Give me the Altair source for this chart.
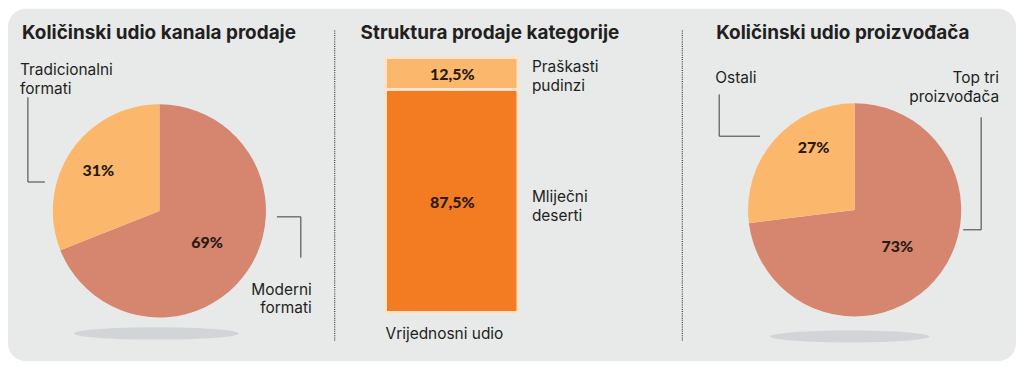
import altair as alt
import pandas as pd

# ---------------- data ----------------
titles = ["Količinski udio kanala prodaje", "Struktura prodaje kategorije", "Količinski udio proizvođača"]
channel_cats = ["Moderni formati", "Tradicionalni formati"]
channel_vals = [69, 31]
category_cats = ["Mliječni deserti", "Praškasti pudinzi"]
category_vals = [87.5, 12.5]
producer_cats = ["Top tri proizvođača", "Ostali"]
producer_vals = [73, 27]
bar_caption = "Vrijednosni udio"

# ---------------- styles ----------------
SALMON = "#d6866f"
PEACH = "#fbb86c"
ORANGE = "#f37b22"
BG = "#e8eaea"
INK = "#231f20"
NUM_INK = "#2a1a12"
FONT = "Inter"
NUM_FONT = "Lato"
LABEL_SIZE = 15.5


def frame(cats, vals):
    return pd.DataFrame({
        "cat": cats,
        "v": vals,
        "idx": list(range(len(cats))),
        "pct": [f"{v:g}%".replace(".", ",") for v in vals],
        "lab": [c[::-1].replace(" ", "\n", 1)[::-1] for c in cats],
    })


ch_df = frame(channel_cats, channel_vals)
cat_df = frame(category_cats, category_vals)
pr_df = frame(producer_cats, producer_vals)
one = pd.DataFrame({"t": titles})

cscale = alt.Scale(
    domain=channel_cats + category_cats + producer_cats,
    range=[SALMON, PEACH, ORANGE, PEACH, SALMON, PEACH],
)
theta_scale = alt.Scale(domain=[0, 100])
y_scale = alt.Scale(domain=[0, 100], range=[305, 49])


def stacked(df):
    return (
        alt.Chart(df)
        .transform_window(cum="sum(v)", sort=[alt.SortField("idx")], frame=[None, 0])
        .transform_calculate(start="datum.cum - datum.v", mid="datum.cum - datum.v / 2")
    )


layers = []

# background panel
layers.append(
    alt.Chart(one.head(1)).mark_rect(color=BG, cornerRadius=18).encode(
        x=alt.value(0), x2=alt.value(1012), y=alt.value(0), y2=alt.value(354)
    )
)

# titles
for i, tx in enumerate([14, 354, 711]):
    layers.append(
        alt.Chart(one).transform_filter(f"datum.t == {titles[i]!r}".replace("'", '"'))
        .mark_text(font=FONT, fontSize=19, fontWeight=700, color=INK, align="left", baseline="alphabetic")
        .encode(text="t:N", x=alt.value(tx), y=alt.value(30))
    )

# separators
for sx in [328, 677]:
    layers.append(
        alt.Chart(one.head(1)).mark_rule(color="#3a3a3a", strokeWidth=1.2, strokeDash=[1, 1.2]).encode(
            x=alt.value(sx), y=alt.value(22), y2=alt.value(334)
        )
    )

ellipse = "M -1 0 A 1 0.075 0 1 0 1 0 A 1 0.075 0 1 0 -1 0 Z"


def pie(df, cx, cy, label_geo, shadow):
    base = stacked(df)
    out = []
    sx, sy, sw = shadow
    out.append(
        alt.Chart(df.head(1)).mark_point(shape=ellipse, size=sw * sw, filled=True, color="#d2d5d7", opacity=1)
        .encode(x=alt.value(sx), y=alt.value(sy))
    )
    out.append(
        base.mark_arc(radius=107).encode(
            theta=alt.Theta("start:Q", scale=theta_scale, stack=None),
            theta2="cum:Q",
            color=alt.Color("cat:N", scale=cscale, legend=None),
            x=alt.value(cx), y=alt.value(cy),
        )
    )
    for i, (r, dx, dy) in enumerate(label_geo):
        out.append(
            base.transform_filter(f"datum.idx == {i}")
            .mark_text(radius=r, dx=dx, dy=dy, font=NUM_FONT, fontSize=16, fontWeight=900, color=NUM_INK)
            .encode(theta=alt.Theta("mid:Q", scale=theta_scale, stack=None), text="pct:N",
                    x=alt.value(cx), y=alt.value(cy))
        )
    return out


layers += pie(ch_df, 152, 203, [(58, 0, 0), (74, 0, 2)], (149, 326, 165))
layers += pie(pr_df, 850, 202, [(57, 0, 0), (75, 15, -13)], (845, 329, 160))

# stacked bar
bar_base = stacked(cat_df)
layers.append(
    bar_base.mark_rect(stroke="#fbe4cb", strokeWidth=3).encode(
        x=alt.value(379), x2=alt.value(512),
        y=alt.Y("start:Q", scale=y_scale, axis=None), y2="cum:Q",
        color=alt.Color("cat:N", scale=cscale, legend=None),
    )
)
layers.append(
    bar_base.mark_text(font=NUM_FONT, fontSize=16, fontWeight=900, color=NUM_INK, baseline="middle", dy=2).encode(
        x=alt.value(446), y=alt.Y("mid:Q", scale=y_scale, axis=None), text="pct:N"
    )
)


def cat_label(df, i, x, y, align):
    return (
        alt.Chart(df).transform_filter(f"datum.idx == {i}")
        .mark_text(font=FONT, fontSize=LABEL_SIZE, color=INK, align=align, baseline="alphabetic",
                   lineBreak="\n", lineHeight=19)
        .encode(text="lab:N", x=alt.value(x), y=alt.value(y))
    )


layers.append(cat_label(ch_df, 1, 12, 67, "left"))
layers.append(cat_label(ch_df, 0, 305, 287, "right"))
layers.append(cat_label(cat_df, 1, 526, 64, "left"))
layers.append(cat_label(cat_df, 0, 526, 194, "left"))
layers.append(cat_label(pr_df, 1, 710, 75, "left"))
layers.append(cat_label(pr_df, 0, 995, 75, "right"))

layers.append(
    alt.Chart(pd.DataFrame({"c": [bar_caption]})).mark_text(
        font=FONT, fontSize=LABEL_SIZE, color=INK, align="left", baseline="alphabetic"
    ).encode(text="c:N", x=alt.value(379), y=alt.value(332))
)

# leader lines
LEAD = dict(color="#3a3a3a", strokeWidth=1)
leaders = [
    (20, 20, 89, 174), (20, 37, 174, 174),
    (270, 294, 209, 209), (294, 294, 209, 250),
    (714, 714, 86, 128), (714, 755, 128, 128),
    (977, 977, 109, 222), (959, 977, 222, 222),
]
for x1, x2, y1, y2 in leaders:
    layers.append(
        alt.Chart(one.head(1)).mark_rule(**LEAD).encode(
            x=alt.value(x1), x2=alt.value(x2), y=alt.value(y1), y2=alt.value(y2)
        )
    )

chart = (
    alt.layer(*layers)
    .properties(width=1012, height=354, autosize=alt.AutoSizeParams(type="none"), padding=0, background="white")
    .configure_view(stroke=None)
)

chart.save("out.html", embed_options={"renderer": "svg", "actions": False})
